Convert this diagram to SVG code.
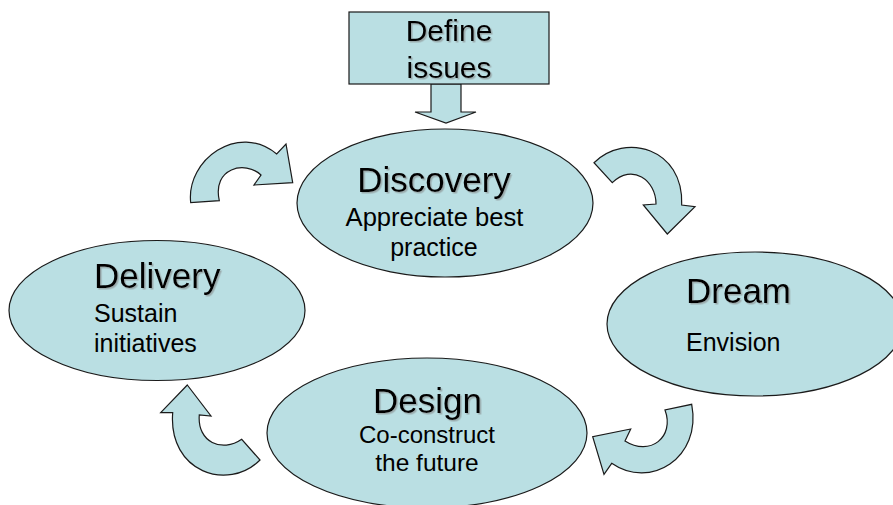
<svg xmlns="http://www.w3.org/2000/svg" width="893" height="505" viewBox="0 0 893 505">
<defs>
  <filter id="sh" x="-10%" y="-20%" width="120%" height="140%">
    <feDropShadow dx="1.5" dy="1.5" stdDeviation="0.6" flood-color="#808080" flood-opacity="0.55"/>
  </filter>
</defs>
<style>
.shape{fill:#BADFE3;stroke:#1a1a1a;stroke-width:1.2}
text{font-family:"Liberation Sans",Arial,sans-serif;fill:#000}
.title{font-size:35px;filter:url(#sh)}
.sub{font-size:25px}
.box{font-size:30px;filter:url(#sh)}
</style>
<rect width="893" height="505" fill="#ffffff"/>
<g id="connectors">
  <path class="shape" d="M431,84 L461,84 L461,112 L476,112 L446,123 L415,112 L431,112 Z"/>
  <path class="shape" d="M190.7,202.7 C 186,160 238,122 276.7,154 L286,144 L292.7,182.7 L254,185 L261,175 C 245,160 212,168 219.3,200.7 Z"/>
  <path class="shape" d="M594,162.7 C 625,132 684,148 681.7,205 L695,206.7 L667.3,234 L643.3,205 L656,204 C 656,180 632,163 612.3,182.7 Z"/>
  <path class="shape" d="M691.7,404.3 C 702,458 650,490 611.7,463.3 L604,474.3 L592.7,436.7 L630.7,429 L625,441 C 650,457 675,437 665,410 Z"/>
  <path class="shape" d="M187.3,385 L211,416 L199.3,415 C 197,442 222,453 241.7,439.3 L260,460 C 228,492 168,472 172.7,412.7 L160.7,412.7 Z"/>
</g>
<g id="define-issues">
  <rect class="shape" x="349" y="12" width="200" height="72"/>
  <text class="box" x="449" y="41" text-anchor="middle">Define</text>
  <text class="box" x="449" y="78" text-anchor="middle">issues</text>
</g>
<g id="discovery">
  <ellipse class="shape" cx="445" cy="203" rx="148" ry="74"/>
  <text class="title" x="434" y="192" text-anchor="middle">Discovery</text>
  <text class="sub" x="434.5" y="226" text-anchor="middle" style="font-size:25.6px">Appreciate best</text>
  <text class="sub" x="434" y="256" text-anchor="middle">practice</text>
</g>
<g id="dream">
  <ellipse class="shape" cx="755" cy="324" rx="148" ry="72"/>
  <text class="title" x="686" y="303">Dream</text>
  <text class="sub" x="686" y="351">Envision</text>
</g>
<g id="design">
  <ellipse class="shape" cx="427" cy="433" rx="160" ry="75"/>
  <text class="title" x="427.5" y="413" text-anchor="middle">Design</text>
  <text class="sub" x="427" y="443" text-anchor="middle" style="font-size:24px">Co-construct</text>
  <text class="sub" x="427" y="471" text-anchor="middle" style="font-size:24.5px">the future</text>
</g>
<g id="delivery">
  <ellipse class="shape" cx="157" cy="310.5" rx="148" ry="70"/>
  <text class="title" x="94" y="288">Delivery</text>
  <text class="sub" x="94" y="321.5">Sustain</text>
  <text class="sub" x="94" y="351.5">initiatives</text>
</g>
</svg>
